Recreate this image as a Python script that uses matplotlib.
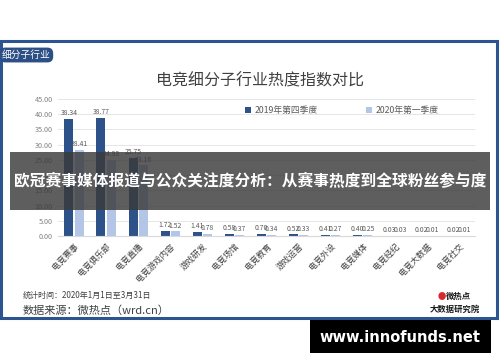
import numpy as np
import matplotlib
matplotlib.use("Agg")
import matplotlib.pyplot as plt
from matplotlib.patches import Rectangle

plt.rcParams['font.family'] = ['Noto Sans CJK SC', 'DejaVu Sans']

# 数据
categories = ["电竞赛事", "电竞俱乐部", "电竞直播", "电竞游戏内容", "游戏研发", "电竞场馆",
              "电竞教育", "游戏运营", "电竞外设", "电竞媒体", "电竞经纪", "电竞大数据", "电竞社交"]
q4_2019 = [38.34, 38.77, 25.75, 1.72, 1.41, 0.58, 0.70, 0.52, 0.41, 0.40, 0.03, 0.02, 0.02]
q1_2020 = [28.41, 24.93, 23.16, 1.52, 0.78, 0.37, 0.34, 0.33, 0.27, 0.25, 0.03, 0.01, 0.01]
series_names = ["2019年第四季度", "2020年第一季度"]
y_ticks = [0, 5, 10, 15, 20, 25, 30, 35, 40, 45]

dark = "#2d528a"
light = "#b3c6e7"
W, H = 500, 362

fig = plt.figure(figsize=(5, 3.62), dpi=100)

def fx(px):
    return px / W

def fy(py):
    return 1 - py / H

# 蓝色边框
fig.patches.append(Rectangle((fx(1), fy(318)), fx(496), (318 - 41) / H, transform=fig.transFigure,
                             fill=False, edgecolor="#2c5490", linewidth=2.2, zorder=1))

# 左上角标签
fig.text(fx(2), fy(55), "细分子行业", color="white", fontsize=7, va="center", ha="left",
         bbox=dict(boxstyle="round,pad=0.25,rounding_size=0.6", fc="#2c4f86", ec="none"))

fig.text(fx(260), fy(81), "电竞细分子行业热度指数对比", fontsize=11.5, color="#404040",
         ha="center", va="center")

ax = fig.add_axes([fx(58), fy(236), fx(475) - fx(58), (236 - 99) / H])
x = np.arange(len(categories))
w = 0.28
b1 = ax.bar(x - w / 2 - 0.02, q4_2019, w, color=dark, label=series_names[0])
b2 = ax.bar(x + w / 2 + 0.02, q1_2020, w, color=light, label=series_names[1])

for rects, vals in ((b1, q4_2019), (b2, q1_2020)):
    for r, v in zip(rects, vals):
        ax.text(r.get_x() + r.get_width() / 2, v + 0.6, f"{v:.2f}", ha="center", va="bottom",
                fontsize=4.9, color="#595959")

ax.set_ylim(0, 45)
ax.set_xlim(-0.5, len(categories) - 0.5)
ax.set_yticks(y_ticks)
ax.set_yticklabels([f"{t:.2f}" for t in y_ticks], fontsize=5.2, color="#808080")
ax.yaxis.grid(True, color="#e6e6e6", linewidth=0.7)
ax.set_axisbelow(True)
ax.tick_params(axis="both", length=0, pad=4)
ax.set_xticks(x)
ax.set_xticklabels(categories, rotation=45, ha="right", rotation_mode="anchor",
                   fontsize=6, color="#404040")
for s in ["top", "right", "left"]:
    ax.spines[s].set_visible(False)
ax.spines["bottom"].set_color("#d9d9d9")

fig.legend(handles=[b1, b2], labels=series_names, loc="center", bbox_to_anchor=(fx(342), fy(111)),
           ncol=2, frameon=False, fontsize=6.3, handlelength=0.7, handleheight=0.7,
           columnspacing=5.5, handletextpad=0.4, labelcolor="#595959")

# 页脚
fig.text(fx(23), fy(295), "统计时间：2020年1月1日至3月31日", fontsize=5.8, color="#404040", va="center")
fig.text(fx(23), fy(311), "数据来源：微热点（wrd.cn）", fontsize=8, color="#404040", va="center")
fig.text(fx(458), fy(296), "微热点", fontsize=6, color="#1a1a1a", ha="center", va="center",
         fontweight="bold")
fig.text(fx(442), fy(296), "●", fontsize=6, color="#d9272e", ha="center", va="center")
fig.text(fx(455), fy(309), "大数据研究院", fontsize=6, color="#1a1a1a", ha="center", va="center",
         fontweight="bold")

# 标题横幅
fig.patches.append(Rectangle((fx(10), fy(210)), fx(480), (210 - 152) / H, transform=fig.transFigure,
                             facecolor="#3a3a3a", alpha=0.82, edgecolor="none", zorder=10))
fig.text(fx(250), fy(181), "欧冠赛事媒体报道与公众关注度分析：从赛事热度到全球粉丝参与度",
         fontsize=11.3, color="white", fontweight="bold", ha="center", va="center", zorder=11)

# 水印
fig.patches.append(Rectangle((fx(310), fy(353)), fx(181), 33 / H, transform=fig.transFigure,
                             facecolor="black", edgecolor="none", zorder=10))
fig.text(fx(400), fy(337), "www.innofunds.net", fontsize=10.5, color="white", fontweight="bold",
         ha="center", va="center", zorder=11, family="DejaVu Sans")

fig.savefig("out.png", dpi=100)
